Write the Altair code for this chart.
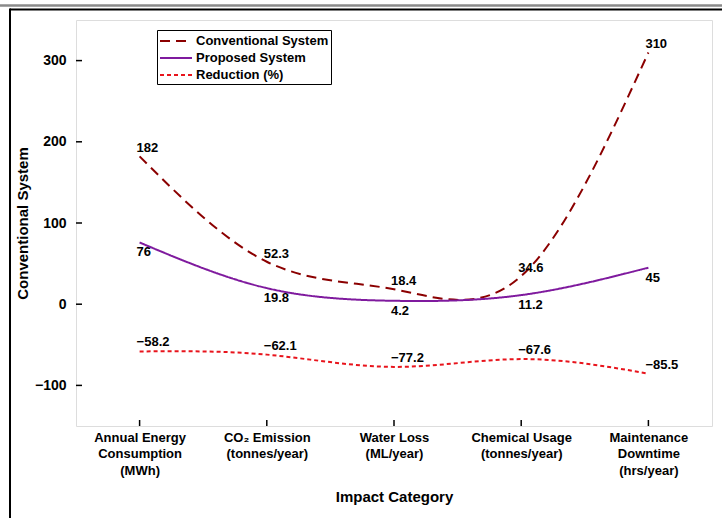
import altair as alt
import pandas as pd

# Impact categories (line breaks are rendered as multi-line axis labels)
categories = [
    "Annual Energy\nConsumption\n(MWh)",
    "CO₂ Emission\n(tonnes/year)",
    "Water Loss\n(ML/year)",
    "Chemical Usage\n(tonnes/year)",
    "Maintenance\nDowntime\n(hrs/year)",
]
series_names = ["Conventional System", "Proposed System", "Reduction (%)"]
conventional = [182, 52.3, 18.4, 34.6, 310]
proposed = [76, 19.8, 4.2, 11.2, 45]
reduction = [-58.2, -62.1, -77.2, -67.6, -85.5]
y_ticks = [-100, 0, 100, 200, 300]

series_colors = ["#8B0000", "#7F1A9E", "#E8141C"]
series_dashes = [[10, 6], [1, 0], [4, 3]]

rows = []
for name, vals in zip(series_names, [conventional, proposed, reduction]):
    for cat, v in zip(categories, vals):
        rows.append({"category": cat, "series": name, "value": v})
df = pd.DataFrame(rows)
ticks_df = pd.DataFrame({"tick": y_ticks})
cat_df = pd.DataFrame({"category": categories})

W, H = 636, 406
FONT = "Liberation Sans"

x_enc = alt.X(
    "category:N",
    sort=categories,
    scale=alt.Scale(type="point", padding=0.5),
    axis=alt.Axis(
        title="Impact Category",
        labelExpr="split(datum.label, '\\n')",
        labelAngle=0,
        labelFont=FONT,
        labelFontWeight="bold",
        labelFontSize=13,
        labelLineHeight=16.5,
        labelBaseline="top",
        labelPadding=5,
        labelColor="black",
        ticks=False,
        domain=False,
        titleFont=FONT,
        titleFontWeight="bold",
        titleFontSize=15,
        titleColor="black",
        titleX=W / 2,
        titleY=70,
        titleBaseline="middle",
    ),
)
y_scale = alt.Scale(domain=[-150, 350], nice=False, zero=False)
y_enc = alt.Y(
    "value:Q",
    scale=y_scale,
    axis=alt.Axis(
        title="Conventional System",
        values=y_ticks,
        format="d",
        labelFont=FONT,
        labelFontWeight="bold",
        labelFontSize=14,
        labelPadding=10,
        labelColor="black",
        ticks=False,
        domain=False,
        grid=False,
        titleFont=FONT,
        titleFontWeight="bold",
        titleFontSize=15,
        titleColor="black",
        titleAngle=-90,
        titleX=-54,
        titleY=H / 2,
        titleAlign="center",
        titleBaseline="middle",
    ),
)

# Legend swatch: a horizontal stroke longer than the nominal symbol size,
# so rows stay compact while the line samples stay long.
legend_opts = dict(
    title=None,
    orient="none",
    legendX=81,
    legendY=10,
    strokeColor="black",
    fillColor="white",
    padding=2,
    rowPadding=1,
    labelFont=FONT,
    labelFontWeight="bold",
    labelFontSize=13,
    labelColor="black",
    labelOffset=19,
    symbolType="M-1,0H3",
    symbolSize=256,
    symbolStrokeWidth=2,
)

base = alt.Chart(df)

lines = base.mark_line(interpolate="natural", strokeWidth=2).encode(
    x=x_enc,
    y=y_enc,
    color=alt.Color(
        "series:N",
        scale=alt.Scale(domain=series_names, range=series_colors),
        legend=alt.Legend(**legend_opts),
    ),
    strokeDash=alt.StrokeDash(
        "series:N",
        scale=alt.Scale(domain=series_names, range=series_dashes),
        legend=alt.Legend(**legend_opts),
    ),
)


def value_labels(name, dy):
    return (
        base.transform_filter(alt.datum.series == name)
        .mark_text(
            align="left",
            baseline="middle",
            dx=-3,
            dy=dy,
            font=FONT,
            fontWeight="bold",
            fontSize=13,
            color="black",
        )
        .encode(
            x=alt.X("category:N", sort=categories),
            y=alt.Y("value:Q"),
            text=alt.Text("value:Q", format=".1~f"),
        )
    )


labels_conv = value_labels("Conventional System", -8)
labels_prop = value_labels("Proposed System", 10)
labels_red = value_labels("Reduction (%)", -9)

# Inward-pointing tick marks on the left and bottom edges
y_tick_marks = alt.Chart(ticks_df).mark_rule(color="black", strokeWidth=1.5).encode(
    y=alt.Y("tick:Q", scale=y_scale),
    x=alt.value(0),
    x2=alt.value(6),
)
x_tick_marks = alt.Chart(cat_df).mark_rule(color="black", strokeWidth=1.5).encode(
    x=alt.X("category:N", sort=categories),
    y=alt.value(H),
    y2=alt.value(H - 6),
)

# Page frame around the figure
frame_grey = alt.Chart(cat_df.head(1)).mark_rule(color="#8a8a8a", strokeWidth=2.5, clip=False).encode(
    x=alt.value(-76), x2=alt.value(W + 20), y=alt.value(-14.5)
)
frame_top = alt.Chart(cat_df.head(1)).mark_rule(color="black", strokeWidth=2, clip=False).encode(
    x=alt.value(-66), x2=alt.value(W + 20), y=alt.value(-10.5)
)
frame_left = alt.Chart(cat_df.head(1)).mark_rule(color="black", strokeWidth=2, clip=False).encode(
    x=alt.value(-66), y=alt.value(-11.5), y2=alt.value(H + 100)
)

chart = (
    alt.layer(
        frame_grey, frame_top, frame_left,
        lines, labels_conv, labels_prop, labels_red,
        y_tick_marks, x_tick_marks,
    )
    .resolve_scale(x="shared", y="shared")
    .properties(
        width=W,
        height=H,
        autosize=alt.AutoSizeParams(type="none"),
        padding={"left": 76, "top": 20, "right": 10, "bottom": 92},
    )
    .configure_view(stroke="black", strokeWidth=2)
    .configure(background="white")
)

chart.save("out.html", embed_options={"renderer": "svg", "actions": False})
